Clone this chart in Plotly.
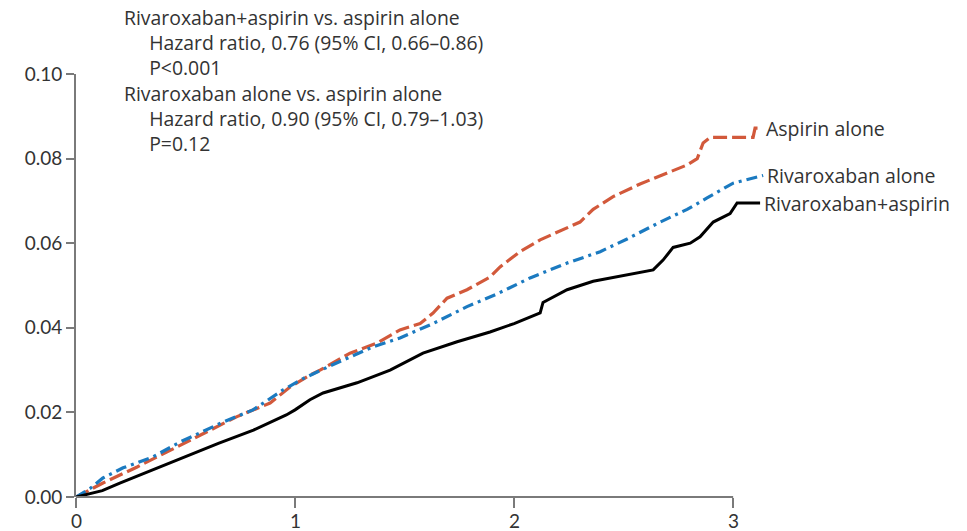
import plotly.graph_objects as go

# ---------------- data ----------------
years_aspirin = [0, 0.123, 0.279, 0.429, 0.580, 0.735, 0.886, 0.977, 1.068, 1.114, 1.251, 1.374,
                 1.479, 1.571, 1.630, 1.694, 1.785, 1.890, 1.936, 2.027, 2.119, 2.210, 2.301, 2.361,
                 2.452, 2.575, 2.699, 2.790, 2.836, 2.863, 2.895, 3.091, 3.100, 3.132]
risk_aspirin = [0, 0.0033, 0.0071, 0.0110, 0.0150, 0.0190, 0.0222, 0.0260, 0.0288, 0.0300, 0.0340, 0.0364,
                0.0395, 0.0410, 0.0435, 0.0470, 0.0490, 0.0520, 0.0544, 0.0580, 0.0608, 0.0630, 0.0650, 0.0680,
                0.0710, 0.0740, 0.0766, 0.0785, 0.0800, 0.0837, 0.0850, 0.0850, 0.0872, 0.0872]

years_riva = [0, 0.064, 0.123, 0.215, 0.352, 0.475, 0.671, 0.808, 0.945, 1.037, 1.160, 1.356,
              1.479, 1.630, 1.785, 1.922, 2.073, 2.242, 2.393, 2.516, 2.667, 2.790, 2.881, 3.000, 3.137]
risk_riva = [0, 0.0020, 0.0045, 0.0069, 0.0095, 0.0130, 0.0177, 0.0206, 0.0253, 0.0280, 0.0310, 0.0355,
             0.0376, 0.0410, 0.0450, 0.0480, 0.0518, 0.0553, 0.0580, 0.0610, 0.0650, 0.0680, 0.0707, 0.0742, 0.0760]

years_combo = [0, 0.12, 0.20, 0.35, 0.50, 0.65, 0.81, 0.96, 1.00, 1.068, 1.128, 1.283, 1.434, 1.584,
               1.740, 1.890, 2.000, 2.073, 2.119, 2.132, 2.242, 2.361, 2.516, 2.635, 2.680, 2.726,
               2.804, 2.849, 2.909, 2.986, 3.018, 3.123]
risk_combo = [0, 0.0015, 0.0033, 0.0064, 0.0095, 0.0127, 0.0158, 0.0194, 0.0206, 0.0230, 0.0246, 0.0270,
              0.0300, 0.0340, 0.0367, 0.0390, 0.0410, 0.0426, 0.0435, 0.0460, 0.0490, 0.0510, 0.0525,
              0.0537, 0.0560, 0.0590, 0.0600, 0.0615, 0.0650, 0.0670, 0.0695, 0.0695]

series_names = ["Aspirin alone", "Rivaroxaban alone", "Rivaroxaban+aspirin"]
x_ticks = [0, 1, 2, 3]
x_tick_labels = ["0", "1", "2", "3"]
y_ticks = [0.00, 0.02, 0.04, 0.06, 0.08, 0.10]

stats_lines = [
    "Rivaroxaban+aspirin vs. aspirin alone",
    "Hazard ratio, 0.76 (95% CI, 0.66\u20130.86)",
    "P<0.001",
    "Rivaroxaban alone vs. aspirin alone",
    "Hazard ratio, 0.90 (95% CI, 0.79\u20131.03)",
    "P=0.12",
]
stats_indent = [False, True, True, False, True, True]

# ---------------- styling ----------------
FONT = "Lato"
TFONT = "Open Sans"
TXT = "#333333"
AXC = "#7a7a7a"
RED = "#D2593B"
BLUE = "#1B7AC0"
BLACK = "#000000"

W, H = 967, 531
ML, MR, MT, MB = 76, 201, 74, 34
X_MAX = 3.15
Y_MAX = 0.10
plot_w = W - ML - MR
plot_h = H - MT - MB


def px_to_paper_x(px):
    return (px - ML) / plot_w


def px_to_paper_y(py):
    return (H - MB - py) / plot_h


fig = go.Figure()
styles = [
    (years_aspirin, risk_aspirin, RED, "14px,5px", 3.2),
    (years_riva, risk_riva, BLUE, "11px,5px,3px,5px", 3.2),
    (years_combo, risk_combo, BLACK, "solid", 3),
]
for name, (xs, ys, col, dash, w) in zip(series_names, styles):
    fig.add_trace(go.Scatter(x=xs, y=ys, mode="lines", name=name,
                             line=dict(color=col, width=w, dash=dash),
                             showlegend=False, hoverinfo="skip"))
    fig.add_annotation(x=xs[-1], y=ys[-1], xref="x", yref="y", text=name,
                       showarrow=False, xanchor="left", yanchor="middle", xshift=2,
                       font=dict(family=TFONT, size=19.5, color=TXT))

# statistics text block (single annotation, 1.3em line spacing)
INDENT = "&nbsp;" * 5
block = "<br>".join((INDENT + t) if ind else t for t, ind in zip(stats_lines, stats_indent))
fig.add_annotation(x=px_to_paper_x(122), y=px_to_paper_y(80),
                   xref="paper", yref="paper", text=block, showarrow=False,
                   xanchor="left", yanchor="middle", align="left",
                   font=dict(family=TFONT, size=19.4, color=TXT))

# x tick labels placed below the ticks (as in the reference, near the page edge)
for xv, lab in zip(x_ticks, x_tick_labels):
    fig.add_annotation(x=xv, y=0, xref="x", yref="paper", text=lab, showarrow=False,
                       xanchor="center", yanchor="top", yshift=-10,
                       font=dict(family=FONT, size=19, color=TXT))

# x axis line only spanning 0..3
fig.add_shape(type="line", xref="paper", yref="paper",
              x0=0, x1=x_ticks[-1] / X_MAX, y0=0, y1=0,
              line=dict(color=AXC, width=2))

fig.update_layout(
    width=W, height=H,
    margin=dict(l=ML, r=MR, t=MT, b=MB, autoexpand=False),
    paper_bgcolor="white", plot_bgcolor="white",
    xaxis=dict(range=[0, X_MAX], showgrid=False, zeroline=False, showline=False,
               automargin=False, showticklabels=False,
               tickvals=x_ticks, ticks="outside", ticklen=10, tickwidth=2, tickcolor=AXC),
    yaxis=dict(range=[0, Y_MAX], showgrid=False, zeroline=False, showline=True,
               linecolor=AXC, linewidth=2, automargin=False,
               tickvals=y_ticks, tickformat=".2f", ticks="outside", ticklen=8, tickwidth=2,
               tickcolor=AXC, tickfont=dict(family=FONT, size=19, color=TXT)),
)

fig.write_html("out.html")
